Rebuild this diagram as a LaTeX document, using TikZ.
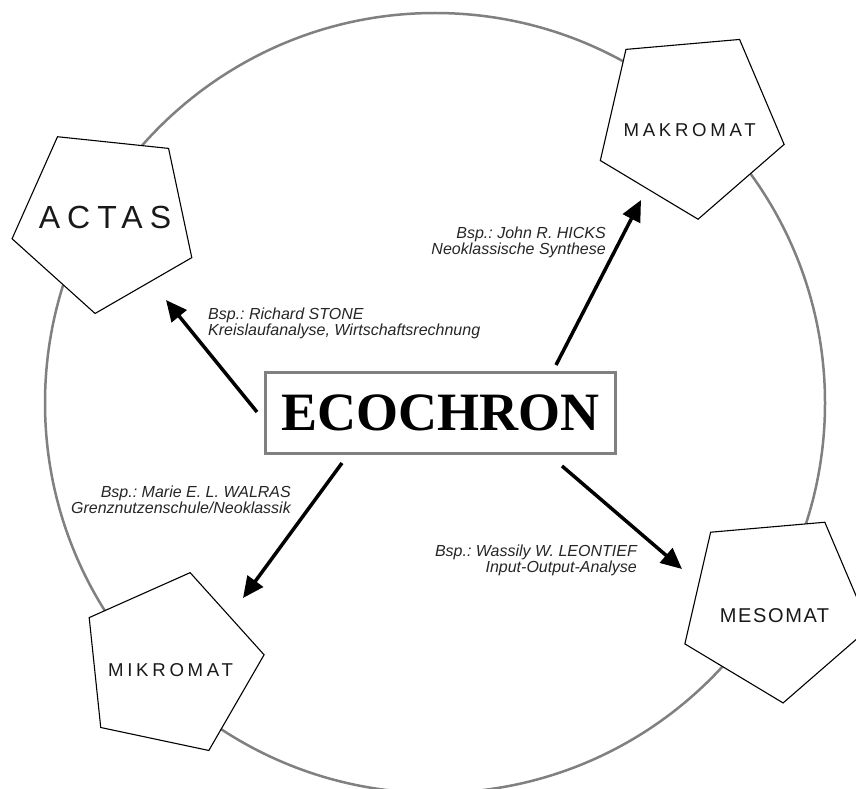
\documentclass[tikz,border=0pt]{standalone}
\usepackage{fontspec}
\setmainfont{Liberation Sans}
\newfontfamily\ecofont{Liberation Serif}
\usetikzlibrary{shapes.geometric,arrows.meta}
\frenchspacing
\newcommand{\lowtext}[2]{\makebox[0pt][c]{\raisebox{-#1}[0pt][0pt]{#2}}}
\begin{document}
\begin{tikzpicture}[x=1pt,y=-1pt,
  penta/.style={regular polygon, regular polygon sides=5, draw=black, line width=1.1pt, fill=white, inner sep=0pt, text=black!90},
  pfont/.style={font=\fontsize{18.6}{19}\selectfont\addfontfeature{LetterSpace=20}},
  arr/.style={line width=3.5pt, draw=black, -{Triangle[length=21pt,width=19pt]}},
  lbl/.style={font=\fontsize{16}{16.5}\selectfont\itshape, text=black!85, inner sep=0pt},
  ring/.style={circle, draw=black!50, line width=2.5pt, inner sep=0pt}]
\clip (0,0) rectangle (856,789);
\fill[white] (0,0) rectangle (856,789);
\node[ring, minimum size=780pt] (ring) at (435,403) {};
% pentagons
\node[penta, minimum size=190pt, shape border rotate=30, font=\fontsize{32}{32}\selectfont\addfontfeature{LetterSpace=22}] (actas) at (105,219) {\lowtext{9.5pt}{ACTAS}};
\node[penta, pfont, minimum size=194pt, shape border rotate=41] (makro) at (689.6,122.6) {\lowtext{14pt}{MAKROMAT}};
\node[penta, minimum size=195pt, shape border rotate=41, font=\fontsize{20}{21}\selectfont\addfontfeature{LetterSpace=8}] (meso) at (774.6,605.8) {\lowtext{16.5pt}{MESOMAT}};
\node[penta, pfont, minimum size=188pt, shape border rotate=-12] (mikro) at (170.6,664.6) {\lowtext{12pt}{MIKROMAT}};
% centre box
\node[draw=black!50, line width=3pt, fill=white, minimum width=350pt, minimum height=81pt, inner sep=0pt, font=\ecofont\bfseries\fontsize{54}{54}\selectfont] (eco) at (440.7,412.5) {ECOCHRON};
% arrow end points
\coordinate (t1) at (257,412); \coordinate (h1) at (166,300);
\coordinate (t2) at (556,365); \coordinate (h2) at (641,200);
\coordinate (t3) at (342,463); \coordinate (h3) at (243,598);
\coordinate (t4) at (562,466); \coordinate (h4) at (682,569);
\draw[arr] (t1) -- (h1);
\draw[arr] (t2) -- (h2);
\draw[arr] (t3) -- (h3);
\draw[arr] (t4) -- (h4);
% labels
\node[lbl, anchor=north west, align=left] (lstone) at (208,307.4) {Bsp.: Richard STONE\\Kreislaufanalyse, Wirtschaftsrechnung};
\node[lbl, anchor=north east, align=right] (lhicks) at (606,226.4) {Bsp.: John R. HICKS\\Neoklassische Synthese};
\node[lbl, anchor=north east, align=right] (lwalras) at (291,485.4) {Bsp.: Marie E. L. WALRAS\\Grenznutzenschule/Neoklassik};
\node[lbl, anchor=north east, align=right] (lleon) at (637,544.4) {Bsp.: Wassily W. LEONTIEF\\Input-Output-Analyse};
\end{tikzpicture}
\end{document}
